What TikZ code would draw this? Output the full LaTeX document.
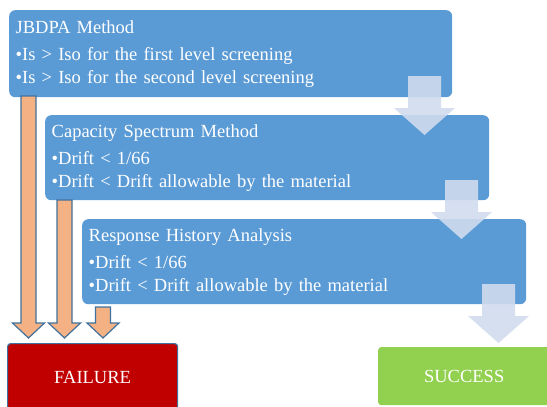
\documentclass[tikz,border=0pt]{standalone}
\usepackage{fontspec}
\setmainfont{Liberation Serif}
\usetikzlibrary{positioning, calc}
\definecolor{stageblue}{HTML}{5B9BD5}
\definecolor{passarrow}{RGB}{208,220,238}
\definecolor{failarrow}{HTML}{F4B183}
\definecolor{edgeblue}{HTML}{41719C}
\definecolor{failred}{HTML}{C00000}
\definecolor{successgreen}{HTML}{92D050}

\begin{document}
\begin{tikzpicture}[x=1pt, y=-1pt, font=\fontsize{18.5}{23}\selectfont,
    stage/.style={anchor=north west, fill=stageblue, text=white, rounded corners=6pt, align=left, inner xsep=6.5pt, inner ysep=0pt},
    result/.style={anchor=north west, text=white, rounded corners=3pt, inner sep=0pt, align=center}]
    \useasboundingbox ({0},{0}) rectangle ({547},{407});

    \node[stage, text width=430pt, minimum height=87pt] (jbdpa) at ({9},{10}) {JBDPA Method\\[4pt]%
        •Is > Iso for the first level screening\\•Is > Iso for the second level screening};
    \node[stage, text width=431pt, minimum height=85pt] (csm) at ({45},{115}) {Capacity Spectrum Method\\[4pt]%
        •Drift < 1/66\\•Drift < Drift allowable by the material};
    \node[stage, text width=431pt, minimum height=85pt] (rha) at ({82},{219}) {Response History Analysis\\[4pt]%
        •Drift < 1/66\\•Drift < Drift allowable by the material};

    \node[result, fill=failred, draw=edgeblue, line width=1.2pt, minimum width=170pt, minimum height=68pt] (failure) at ({7},{343}) {FAILURE};
    \node[result, fill=successgreen, minimum width=172pt, minimum height=58pt] (success) at ({378},{347}) {SUCCESS};

    % pass arrows
    \foreach \cx/\ty in {424.5/76, 461.5/180, 498.5/284}
        \fill[passarrow, opacity=0.9] ({\cx-16.5},{\ty}) -- ({\cx+16.5},{\ty}) -- ({\cx+16.5},{\ty+32}) -- ({\cx+30.5},{\ty+32})
            -- ({\cx},{\ty+59}) -- ({\cx-30.5},{\ty+32}) -- ({\cx-16.5},{\ty+32}) -- cycle;

    % fail arrows
    \foreach \cx/\ty in {28.5/96, 64.5/200, 103/307}
        \draw[edgeblue, fill=failarrow, line width=1.2pt, line join=miter] ({\cx-7.5},{\ty}) -- ({\cx+7.5},{\ty}) -- ({\cx+7.5},{323}) -- ({\cx+16},{323})
            -- ({\cx},{338}) -- ({\cx-16},{323}) -- ({\cx-7.5},{323}) -- cycle;
\end{tikzpicture}
\end{document}
